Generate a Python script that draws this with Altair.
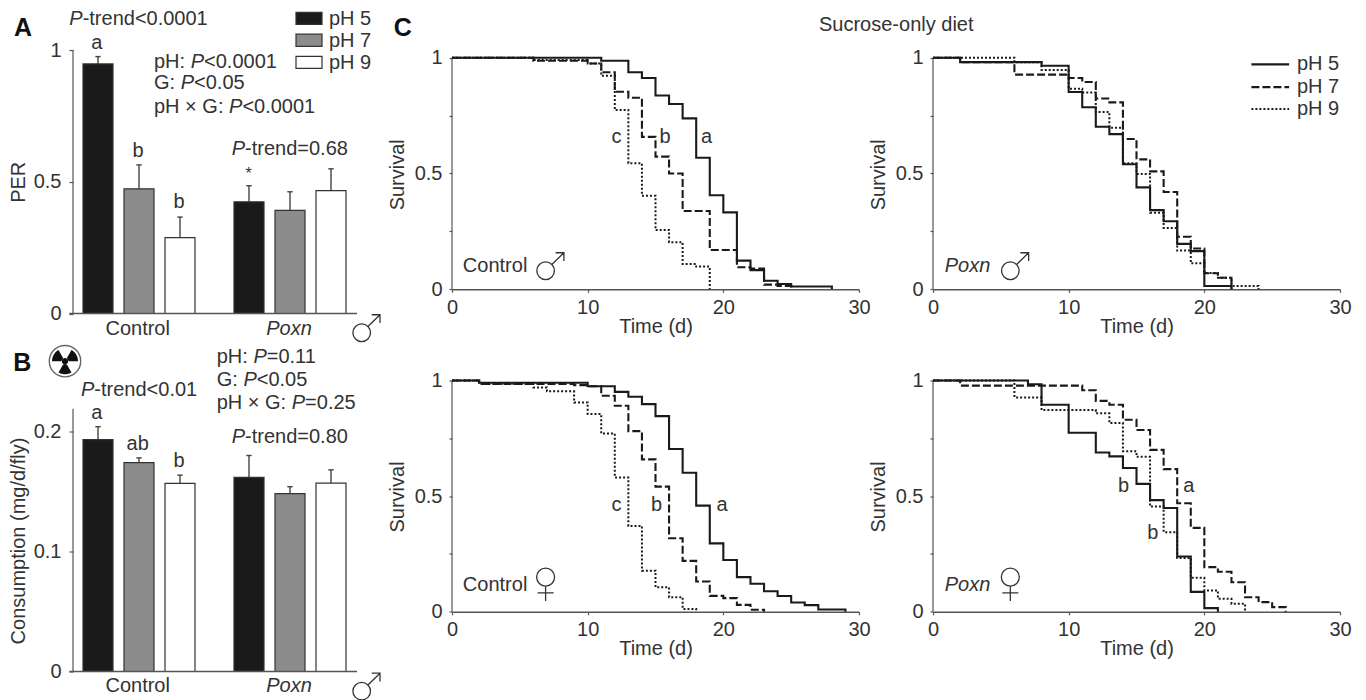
import math
import altair as alt
import pandas as pd

FONT = "Liberation Sans"
INK = "#333333"
FS = 20

# ---------- bar panels ----------
GROUP_OFFSET = [25, 176]
SLOT = 41
HALF_BAR = 15
PH = ["pH 5", "pH 7", "pH 9"]
BAR_FILL = {"pH 5": "#1a1a1a", "pH 7": "#8c8c8c", "pH 9": "#ffffff"}

A_VALUES = [0.947, 0.473, 0.288, 0.424, 0.391, 0.466]
A_ERR_TOP = [0.975, 0.564, 0.366, 0.485, 0.462, 0.549]
B_VALUES = [0.1933, 0.174, 0.1567, 0.1617, 0.1483, 0.157]
B_ERR_TOP = [0.204, 0.178, 0.1636, 0.18, 0.154, 0.168]

# ---------- survival curves: step times and surviving fractions ----------
C1_T5 = [0, 11, 13, 14, 15, 16, 17, 18, 19, 20, 21, 22, 23, 24, 25, 28]
C1_S5 = [1, .987, .937, .912, .837, .80, .738, .568, .406, .332, .124, .083, .037, .023, .012, 0]
C1_T7 = [0, 6, 10, 11, 12, 13, 14, 15, 16, 17, 19, 21, 22, 23, 24, 25]
C1_S7 = [1, .987, .975, .937, .853, .827, .658, .573, .50, .338, .17, .095, .09, .02, .015, 0]
C1_T9 = [0, 6, 10, 11, 12, 13, 14, 15, 16, 17, 18, 19]
C1_S9 = [1, .99, .975, .922, .774, .544, .404, .256, .203, .109, .098, 0]

C2_T5 = [0, 2, 8, 10, 11, 12, 13, 14, 15, 16, 17, 18, 19, 20, 22]
C2_S5 = [1, .981, .965, .852, .786, .702, .67, .54, .44, .342, .294, .196, .165, .014, 0]
C2_T7 = [0, 2, 6, 10, 11, 12, 13, 14, 15, 16, 17, 18, 19, 20, 21, 22]
C2_S7 = [1, .981, .927, .912, .895, .824, .807, .649, .561, .509, .42, .227, .176, .069, .05, 0]
C2_T9 = [0, 6, 8, 10, 11, 12, 13, 14, 15, 16, 17, 18, 19, 20, 21, 22, 24]
C2_S9 = [1, .98, .947, .866, .85, .765, .698, .544, .498, .331, .265, .167, .112, .07, .05, .014, 0]

C3_T5 = [0, 2, 10, 12, 13, 14, 15, 16, 17, 18, 19, 20, 21, 22, 23, 24, 25, 26, 27, 29]
C3_S5 = [1, .99, .975, .951, .93, .898, .846, .704, .601, .459, .296, .224, .15, .121, .089, .068, .04, .029, .01, 0]
C3_T7 = [0, 2, 9, 10, 11, 12, 13, 14, 15, 16, 17, 18, 19, 20, 21, 22, 23]
C3_S7 = [1, .985, .98, .975, .934, .891, .781, .659, .541, .318, .22, .131, .069, .059, .03, .009, 0]
C3_T9 = [0, 2, 6, 7, 9, 10, 11, 12, 13, 14, 15, 16, 17, 18]
C3_S9 = [1, .985, .97, .953, .905, .855, .771, .581, .371, .178, .106, .063, .012, 0]

C4_T5 = [0, 7, 8, 10, 12, 13, 14, 15, 16, 17, 18, 19, 20, 21]
C4_S5 = [1, .984, .895, .774, .689, .672, .622, .553, .483, .449, .239, .086, .016, 0]
C4_T7 = [0, 2, 11, 12, 13, 14, 15, 16, 17, 18, 19, 20, 21, 22, 23, 24, 25, 26]
C4_S7 = [1, .978, .958, .912, .895, .83, .786, .70, .617, .469, .363, .193, .173, .128, .063, .042, .02, 0]
C4_T9 = [0, 6, 8, 12, 13, 14, 15, 16, 17, 18, 19, 20, 21, 22, 23]
C4_S9 = [1, .927, .872, .858, .816, .694, .67, .455, .344, .233, .147, .092, .056, .035, 0]

LINE_STYLE = {
    "pH 5": dict(strokeWidth=2.1),
    "pH 7": dict(strokeWidth=2.1, strokeDash=[8, 3]),
    "pH 9": dict(strokeWidth=2.0, strokeDash=[2, 2]),
}

# ---------- text metrics for runs that mix upright and italic ----------
W = {"P": .667, "p": .556, "H": .722, ":": .278, " ": .278, "G": .778, "×": .584, "<": .584, "=": .584,
     "-": .333, "t": .278, "r": .333, "e": .556, "n": .556, "d": .556, ".": .278}


def width(s):
    return sum(W.get(c, .556) for c in s) * FS


def rich(x, y, *runs):
    rows, pos = [], x
    for txt, italic in runs:
        rows.append(dict(x=pos, y=y, text=txt, italic=italic))
        pos += width(txt)
    return rows


def ptrend(x, y, rest):
    return rich(x, y, ("P", True), ("-trend" + rest, False))


def stats(x, ys, r1, r2, r3):
    return (rich(x, ys[0], ("pH: ", False), ("P", True), (r1, False))
            + rich(x, ys[1], ("G: ", False), ("P", True), (r2, False))
            + rich(x, ys[2], ("pH × G: ", False), ("P", True), (r3, False)))


def plain(x, y, s, italic=False):
    return [dict(x=x, y=y, text=s, italic=italic)]


# ---------- glyph shapes (units are pixels; a size of 4 gives scale 1) ----------
def ring(r, cx=0.0, cy=0.0):
    k = 0.5523 * r
    return (f"M{cx+r},{cy}C{cx+r},{cy+k} {cx+k},{cy+r} {cx},{cy+r}"
            f"C{cx-k},{cy+r} {cx-r},{cy+k} {cx-r},{cy}"
            f"C{cx-r},{cy-k} {cx-k},{cy-r} {cx},{cy-r}"
            f"C{cx+k},{cy-r} {cx+r},{cy-k} {cx+r},{cy}Z")


MALE = ring(8.8) + "M6.2,-6.2L18.3,-18M10,-18L18.3,-18L18.3,-9.7"
FEMALE = ring(9) + "M0,9L0,24M-8,15.7L8,15.7"


def blade(mid_deg, r0=3.8, r1=13.0, half=30):
    pts = []
    for a in range(mid_deg - half, mid_deg + half + 1, 5):
        t = math.radians(a)
        pts.append((r1 * math.sin(t), -r1 * math.cos(t)))
    for a in (mid_deg + half, mid_deg - half):
        t = math.radians(a)
        pts.append((r0 * math.sin(t), -r0 * math.cos(t)))
    return "M" + "L".join(f"{x:.2f},{y:.2f}" for x, y in pts) + "Z"


TREFOIL = blade(-60) + blade(60) + blade(180) + ring(3.2)
DISC = ring(15.7)


def glyph(path, x, y, xe, ye, filled=False, sw=1.3, color="#333333"):
    d = pd.DataFrame({"x": [x], "y": [y]})
    if filled:
        m = alt.Chart(d).mark_point(shape=path, size=4, filled=True, fill=color, opacity=1)
    else:
        m = alt.Chart(d).mark_point(shape=path, size=4, filled=False, stroke=color, strokeWidth=sw, opacity=1)
    return m.encode(x=xe, y=ye)


def text_layers(rows, xe, ye, size=FS, align="left"):
    d = pd.DataFrame(rows)
    out = []
    for it in (False, True):
        part = d[d["italic"] == it]
        if len(part):
            kw = dict(fontStyle="italic") if it else {}
            out.append(alt.Chart(part).mark_text(font=FONT, fontSize=size, color=INK, align=align,
                                                 baseline="middle", **kw)
                       .encode(x=xe, y=ye, text="text:N"))
    return out


def centered(rows, xe, ye, size=FS):
    return text_layers(rows, xe, ye, size, "center")


def bold_letter(letter, x, y, xe, ye):
    return alt.Chart(pd.DataFrame({"x": [x], "y": [y], "text": [letter]})).mark_text(
        font=FONT, fontSize=25, fontWeight="bold", color="#111111", align="left", baseline="middle").encode(
        x=xe, y=ye, text="text:N")


def bar_panel(vals, errs, y_top, axis_top, ticks, title, title_y, base_len=284, title_x=-55):
    xs = alt.Scale(domain=[0, 305], nice=False, zero=False)
    ys = alt.Scale(domain=[0, y_top], nice=False, zero=False)
    ya = alt.Axis(values=ticks, title=title, titleX=title_x, titleY=title_y, titleAngle=270,
                  titleAlign="center", titleBaseline="middle", titleFont=FONT, titleFontSize=FS,
                  titleFontWeight="normal", titleColor=INK, labelFont=FONT, labelFontSize=FS,
                  labelColor=INK, labelPadding=8, tickSize=4, tickColor="#555555", tickWidth=1.2,
                  domain=False, grid=False, format="~g")
    xe = alt.X("x:Q", scale=xs, axis=None)
    ye = alt.Y("y:Q", scale=ys, axis=ya)
    centers = [GROUP_OFFSET[g] + i * SLOT for g in range(2) for i in range(3)]
    fills = [BAR_FILL[p] for _ in range(2) for p in PH]
    d = pd.DataFrame({"x": [c - HALF_BAR for c in centers], "x2": [c + HALF_BAR for c in centers],
                      "y": [0.0] * 6, "y2": vals, "top": errs, "c": centers, "f": fills})
    e = d.assign(xa=d.c, xl=d.c - 2.7, xr=d.c + 2.7)
    layers = [
        alt.Chart(e).mark_rule(color="#444444", strokeWidth=1.4).encode(
            x=alt.X("xa:Q", scale=xs, axis=None), y=alt.Y("y2:Q", scale=ys, axis=ya),
            y2="top:Q"),
        alt.Chart(e).mark_rule(color="#444444", strokeWidth=1.4).encode(
            x=alt.X("xl:Q", scale=xs, axis=None), x2="xr:Q", y=alt.Y("top:Q", scale=ys, axis=ya)),
        alt.Chart(d).mark_rect(stroke="#333333", strokeWidth=1.2).encode(
            x=xe, x2="x2:Q", y=ye, y2="y2:Q", fill=alt.Fill("f:N", scale=None)),
        alt.Chart(pd.DataFrame({"x": [0.0], "y": [0.0], "y2": [axis_top]})).mark_rule(
            color="#555555", strokeWidth=1.2).encode(x=xe, y=ye, y2="y2:Q"),
        alt.Chart(pd.DataFrame({"x": [-3.7], "x2": [base_len], "y": [0.0]})).mark_rule(
            color="#555555", strokeWidth=1.4).encode(x=xe, x2="x2:Q", y=ye),
    ]
    return layers, xe, ye


# ---- Panel A ----
a_layers, axe, aye = bar_panel(A_VALUES, A_ERR_TOP, 1.0, 1.0, [0, 0.5, 1], "PER", 131.75)
a_left = (ptrend(-3.7, 1.117, "<0.0001")
          + stats(81, [.956, .873, .785], "<0.0001", "<0.05", "<0.0001")
          + ptrend(158.7, .624, "=0.68")
          + plain(256, 1.117, "pH 5") + plain(256, 1.035, "pH 7") + plain(256, .95, "pH 9"))
a_mid = (plain(23.7, 1.027, "a") + plain(65, .618, "b") + plain(106, .423, "b")
         + plain(64.7, -.06, "Control") + plain(216, -.06, "Poxn", True))
swatch = pd.DataFrame({"x": [223] * 3, "x2": [249] * 3, "y": [1.143, 1.060, .976], "y2": [1.097, 1.014, .930],
                       "f": [BAR_FILL[p] for p in PH]})
a_swatch = alt.Chart(swatch).mark_rect(stroke="#333333", strokeWidth=1.2).encode(
    x=axe, x2="x2:Q", y=aye, y2="y2:Q", fill=alt.Fill("f:N", scale=None))
a_star = alt.Chart(pd.DataFrame({"x": [175.7], "y": [.53], "text": ["*"]})).mark_text(
    font=FONT, fontSize=16, color=INK, align="center", baseline="middle").encode(x=axe, y=aye, text="text:N")
panel_a = alt.layer(*a_layers, a_swatch, *text_layers(a_left, axe, aye), *centered(a_mid, axe, aye), a_star,
                    bold_letter("A", -59, 1.083, axe, aye),
                    glyph(MALE, 288.7, -.073, axe, aye)).properties(width=305, height=263.5)

# ---- Panel B ----
b_layers, bxe, bye = bar_panel(B_VALUES, B_ERR_TOP, 0.2425, 0.219, [0, 0.1, 0.2],
                               "Consumption (mg/d/fly)", 160)
b_left = (ptrend(8, .2347, "<0.01")
          + stats(143.7, [.2619, .2431, .2239], "=0.11", "<0.05", "=0.25")
          + ptrend(158.7, .1953, "=0.80"))
b_mid = (plain(23.7, .2153, "a") + plain(64.7, .1892, "ab") + plain(106, .1753, "b")
         + plain(64.7, -.01225, "Control") + plain(216, -.01225, "Poxn", True))
panel_b = alt.layer(*b_layers, *text_layers(b_left, bxe, bye), *centered(b_mid, bxe, bye),
                    bold_letter("B", -59.7, .2569, bxe, bye),
                    glyph(DISC, -8, .2586, bxe, bye, sw=1.4, color="#666666"),
                    glyph(TREFOIL, -8, .2586, bxe, bye, filled=True, color="#111111"),
                    glyph(MALE, 288.7, -.0164, bxe, bye)).properties(width=305, height=291)


# ---- Survival panels ----
def survival(series, y_top, title_y, extra):
    xe = alt.X("x:Q", scale=alt.Scale(domain=[0, 30], nice=False, zero=False),
               axis=alt.Axis(values=[0, 10, 20, 30], title="Time (d)", titlePadding=-1, titleFont=FONT,
                             titleFontSize=FS, titleFontWeight="normal", titleColor=INK, labelFont=FONT,
                             labelFontSize=FS, labelColor=INK, labelPadding=5, tickSize=3, tickColor="#555555",
                             tickWidth=1.2, domainColor="#555555", domainWidth=1.4, grid=False, format="d",
                             labelFlush=False))
    ye = alt.Y("y:Q", scale=alt.Scale(domain=[0, y_top], nice=False, zero=False),
               axis=alt.Axis(values=[0, .25, .5, .75, 1], title="Survival", titleX=-55, titleY=title_y,
                             titleAngle=270, titleAlign="center", titleBaseline="middle", titleFont=FONT,
                             titleFontSize=FS, titleFontWeight="normal", titleColor=INK, labelFont=FONT,
                             labelFontSize=FS, labelColor=INK, labelPadding=7, tickSize=3, tickColor="#555555",
                             tickWidth=1.2, domain=False, grid=False,
                             labelExpr="datum.value == 1 ? '1' : datum.value == 0.5 ? '0.5' : "
                                       "datum.value == 0 ? '0' : ''"))
    axis_line = alt.Chart(pd.DataFrame({"x": [0.0], "y": [0.0], "y2": [1.0]})).mark_rule(
        color="#555555", strokeWidth=1.2).encode(x=xe, y=ye, y2="y2:Q")
    layers = [axis_line]
    for name, (t, s) in reversed(list(zip(PH, series))):
        d = pd.DataFrame({"x": t, "y": s})
        layers.append(alt.Chart(d).mark_line(interpolate="step-after", color="#1a1a1a", **LINE_STYLE[name]).encode(
            x=xe, y=ye))
    return layers + extra(xe, ye)


def c1_extra(xe, ye):
    return (centered(plain(18.76, .656, "a") + plain(15.7, .656, "b") + plain(12.13, .656, "c"), xe, ye)
            + text_layers(plain(.8, .10, "Control") + plain(27.05, 1.141, "Sucrose-only diet"), xe, ye)
            + [bold_letter("C", -4.3, 1.13, xe, ye), glyph(MALE, 6.9, .08, xe, ye)])


def c2_extra(xe, ye):
    out = text_layers(plain(.86, .10, "Poxn", True) + plain(26.83, .971, "pH 5") + plain(26.83, .873, "pH 7")
                      + plain(26.83, .778, "pH 9"), xe, ye)
    for name, level in zip(PH, [.971, .873, .778]):
        d = pd.DataFrame({"x": [23.47, 26.25], "y": [level, level]})
        out.append(alt.Chart(d).mark_line(color="#1a1a1a", **LINE_STYLE[name]).encode(x=xe, y=ye))
    out.append(glyph(MALE, 5.7, .08, xe, ye))
    return out


def c3_extra(xe, ye):
    return (centered(plain(19.9, .462, "a") + plain(15.07, .462, "b") + plain(12.12, .462, "c"), xe, ye)
            + text_layers(plain(.8, .116, "Control"), xe, ye) + [glyph(FEMALE, 6.9, .15, xe, ye)])


def c4_extra(xe, ye):
    return (centered(plain(18.85, .546, "a") + plain(14.04, .546, "b") + plain(16.2, .34, "b"), xe, ye)
            + text_layers(plain(.86, .116, "Poxn", True), xe, ye) + [glyph(FEMALE, 5.7, .15, xe, ye)])


panel_c1 = alt.layer(*survival([(C1_T5, C1_S5), (C1_T7, C1_S7), (C1_T9, C1_S9)], 1.0332, 124.3, c1_extra)
                     ).properties(width=407, height=239.3)
panel_c2 = alt.layer(*survival([(C2_T5, C2_S5), (C2_T7, C2_S7), (C2_T9, C2_S9)], 1.0332, 124.3, c2_extra)
                     ).properties(width=407, height=239.3)
panel_c3 = alt.layer(*survival([(C3_T5, C3_S5), (C3_T7, C3_S7), (C3_T9, C3_S9)], 1.0, 116, c3_extra)
                     ).properties(width=407, height=231.3)
panel_c4 = alt.layer(*survival([(C4_T5, C4_S5), (C4_T7, C4_S7), (C4_T9, C4_S9)], 1.0, 116, c4_extra)
                     ).properties(width=407, height=231.3)

chart = alt.concat(panel_a, panel_c1, panel_c2, panel_b, panel_c3, panel_c4, columns=3).properties(
    bounds="flush", align="each", spacing={"row": 66.5, "column": 74},
    padding={"left": 0, "top": 1, "right": 0, "bottom": 0}, background="white"
).configure_view(stroke=None)

chart.save("out.html", embed_options={"renderer": "svg", "actions": False})
